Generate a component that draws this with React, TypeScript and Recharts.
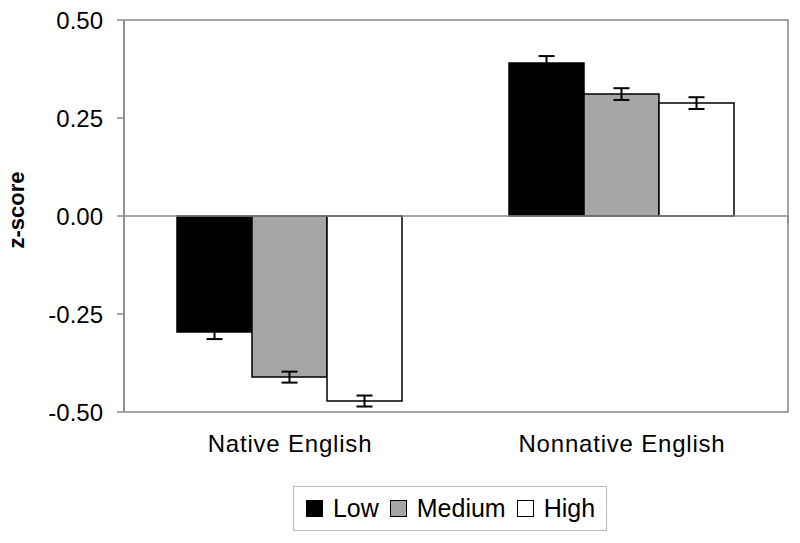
import React from 'react'
import {
  BarChart, Bar, XAxis, YAxis, ErrorBar, ReferenceLine, ReferenceArea, Legend
} from 'recharts'

const categories = ['Native English', 'Nonnative English']
const low = [-0.296, 0.39]
const medium = [-0.411, 0.311]
const high = [-0.472, 0.288]
const lowErr = [0.018, 0.018]
const mediumErr = [0.014, 0.015]
const highErr = [0.014, 0.015]
const yTicks = [0.5, 0.25, 0, -0.25, -0.5]

const seriesInfo = [
  { key: 'low', label: 'Low', fill: '#000000' },
  { key: 'medium', label: 'Medium', fill: '#a6a6a6' },
  { key: 'high', label: 'High', fill: '#ffffff' },
]

const data = categories.map((name, i) => ({
  name,
  low: low[i], medium: medium[i], high: high[i],
  lowErr: lowErr[i], mediumErr: mediumErr[i], highErr: highErr[i],
}))

const font = "'Liberation Sans', Arial, sans-serif"

function LegendBox() {
  return (
    <div style={{ paddingTop: 34, display: 'flex', justifyContent: 'center', paddingLeft: 112 }}>
      <div style={{
        display: 'flex', alignItems: 'center', height: 45, boxSizing: 'border-box',
        border: '1px solid #bbb', padding: '0 11px 0 12px', fontFamily: font, fontSize: 25, color: '#000'
      }}>
        {seriesInfo.map((s, i) => (
          <div key={s.key} style={{ display: 'flex', alignItems: 'center', marginLeft: i ? 11 : 0 }}>
            <span style={{
              width: 17, height: 17, boxSizing: 'border-box', background: s.fill,
              border: '1.5px solid #000', marginRight: 10, display: 'inline-block'
            }} />
            <span>{s.label}</span>
          </div>
        ))}
      </div>
    </div>
  )
}

export default function App() {
  return (
    <div style={{ position: 'absolute', left: 0, top: 0, background: '#fff' }}>
      <BarChart
        width={800} height={543} data={data}
        margin={{ top: 20, right: 12, left: 0, bottom: 12 }}
        barCategoryGap={53} barGap={0}
      >
        <XAxis
          dataKey="name" axisLine={false} tickLine={false} height={40} tickMargin={17}
          tick={{ fontSize: 24, fill: '#000', fontFamily: font, letterSpacing: 0.8 }}
        />
        <XAxis xAxisId="num" type="number" domain={[0, 2]} hide />
        <YAxis
          width={124} domain={[-0.5, 0.5]} ticks={yTicks} interval={0}
          tickFormatter={(v: number) => v.toFixed(2)}
          axisLine={{ stroke: '#888', strokeWidth: 1.5 }}
          tickLine={{ stroke: '#888', strokeWidth: 1.5 }} tickSize={7} tickMargin={14}
          tick={{ fontSize: 24, fill: '#000', fontFamily: font }}
          label={{
            value: 'z-score', angle: -90, position: 'insideLeft', offset: 16, dy: -6,
            style: { textAnchor: 'middle', fontSize: 22, fontWeight: 'bold', fill: '#000', fontFamily: font }
          }}
        />
        <ReferenceArea y1={-0.5} y2={0.5} fill="none" stroke="#888" strokeWidth={1.5} ifOverflow="visible" />
        <ReferenceLine y={0} stroke="#888" strokeWidth={1.5} />
        <ReferenceLine
          xAxisId="num" stroke="#888" strokeWidth={1.5} ifOverflow="visible"
          segment={[{ x: 1, y: 0 }, { x: 1, y: -0.018 }]}
        />
        <Legend verticalAlign="bottom" align="center" content={() => <LegendBox />} />
        {seriesInfo.map(s => (
          <Bar key={s.key} dataKey={s.key} fill={s.fill} stroke="#000" strokeWidth={1.5} isAnimationActive={false}>
            <ErrorBar dataKey={s.key + 'Err'} width={8} stroke="#000" strokeWidth={2} direction="y" />
          </Bar>
        ))}
      </BarChart>
    </div>
  )
}
